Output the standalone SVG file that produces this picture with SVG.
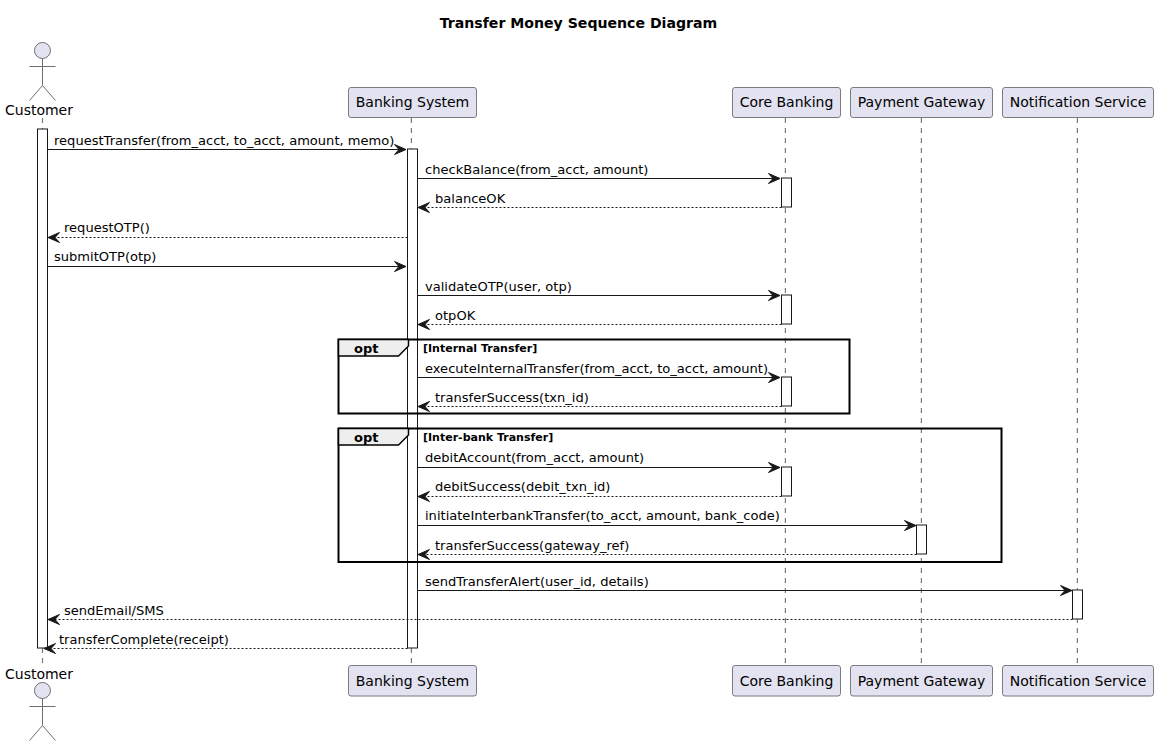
<svg xmlns="http://www.w3.org/2000/svg" width="1158" height="746" viewBox="0 0 1158 746">
<style>
text{font-family:"DejaVu Sans",sans-serif;font-size:13.06px;fill:#000}
.title{font-weight:bold;font-size:14.1px}
.cond{font-weight:bold;font-size:11px}
.opt{font-weight:bold;font-size:13px}
.name{font-size:14px;fill:#000}
.life{stroke:#7a7a7a;stroke-width:1.2;stroke-dasharray:5 5;fill:none}
.box{fill:#E2E2F0;stroke:#7b7b82;stroke-width:1}
.fig{fill:none;stroke:#6e6e6e;stroke-width:1}
.head{fill:#E2E2F0;stroke:#6e6e6e;stroke-width:1}
.act{fill:#fff;stroke:#181818;stroke-width:1}
.msg{stroke:#181818;stroke-width:1;fill:none}
.ret{stroke:#181818;stroke-width:1;fill:none;stroke-dasharray:2 2}
.frame{fill:none;stroke:#000;stroke-width:2}
.tab{fill:#EEEEEE;stroke:#000;stroke-width:1.5}
.ah{fill:#181818;stroke:#181818;stroke-width:1}
</style>
<defs>
<path id="ar" class="ah" d="M0 0L-11.500 -5L-7 0L-11.500 5Z"/>
<path id="al" class="ah" d="M0 0L11.500 -5L7 0L11.500 5Z"/>
<g id="actor">
<circle class="head" cx="0" cy="8" r="8"/>
<path class="fig" d="M0 16V43M-13 24H13M0 43L-13 58M0 43L13 58"/>
</g>
</defs>
<text class="title" x="578.500" y="28" text-anchor="middle">Transfer Money Sequence Diagram</text>
<g id="lifelines">
<path class="life" d="M42.500 118V665"/>
<path class="life" d="M411.400 118V665"/>
<path class="life" d="M785.400 118V665"/>
<path class="life" d="M921.400 118V665"/>
<path class="life" d="M1077.400 118V665"/>
</g>
<g id="activations">
<rect class="act" x="37.500" y="129" width="10" height="519"/>
<rect class="act" x="407.500" y="149" width="10" height="499"/>
<rect class="act" x="781.500" y="178" width="10" height="29"/>
<rect class="act" x="781.500" y="295" width="10" height="29"/>
<rect class="act" x="781.500" y="377" width="10" height="29"/>
<rect class="act" x="781.500" y="467" width="10" height="29"/>
<rect class="act" x="916.500" y="525" width="10" height="29"/>
<rect class="act" x="1072.500" y="590" width="10" height="29"/>
</g>
<g id="frames">
<rect class="frame" x="338.500" y="339.500" width="511" height="74"/>
<path class="tab" d="M338.500 339.500H408.500V346L398.500 356H338.500Z"/>
<text class="opt" x="354" y="353">opt</text>
<text class="cond" x="423" y="352">[Internal Transfer]</text>
<rect class="frame" x="338.500" y="428.500" width="663" height="133.500"/>
<path class="tab" d="M338.500 428.500H408.500V435L398.500 445H338.500Z"/>
<text class="opt" x="354" y="442">opt</text>
<text class="cond" x="423" y="441">[Inter-bank Transfer]</text>
</g>
<g id="connectors">
<path class="msg" d="M47.500 149.500H405"/><use href="#ar" x="406" y="149.500"/>
<path class="msg" d="M417.500 178.500H779"/><use href="#ar" x="780" y="178.500"/>
<path class="ret" d="M781.500 207.500H419"/><use href="#al" x="418" y="207.500"/>
<path class="ret" d="M407.500 237.500H49"/><use href="#al" x="48" y="237.500"/>
<path class="msg" d="M47.500 266.500H405"/><use href="#ar" x="406" y="266.500"/>
<path class="msg" d="M417.500 295.500H779"/><use href="#ar" x="780" y="295.500"/>
<path class="ret" d="M781.500 324.500H419"/><use href="#al" x="418" y="324.500"/>
<path class="msg" d="M417.500 377.500H779"/><use href="#ar" x="780" y="377.500"/>
<path class="ret" d="M781.500 406.500H419"/><use href="#al" x="418" y="406.500"/>
<path class="msg" d="M417.500 467.500H779"/><use href="#ar" x="780" y="467.500"/>
<path class="ret" d="M781.500 496.500H419"/><use href="#al" x="418" y="496.500"/>
<path class="msg" d="M417.500 525.500H915"/><use href="#ar" x="916" y="525.500"/>
<path class="ret" d="M916.500 554.500H419"/><use href="#al" x="418" y="554.500"/>
<path class="msg" d="M417.500 590.500H1071"/><use href="#ar" x="1072" y="590.500"/>
<path class="ret" d="M1072.500 619.500H49"/><use href="#al" x="48" y="619.500"/>
<path class="ret" d="M407.500 648.500H45"/><use href="#al" x="44" y="648.500"/>
</g>
<g id="labels">
<text x="54" y="145">requestTransfer(from_acct, to_acct, amount, memo)</text>
<text x="425" y="174">checkBalance(from_acct, amount)</text>
<text x="435" y="203">balanceOK</text>
<text x="64" y="232">requestOTP()</text>
<text x="54" y="261">submitOTP(otp)</text>
<text x="425" y="291">validateOTP(user, otp)</text>
<text x="435" y="320">otpOK</text>
<text x="425" y="373">executeInternalTransfer(from_acct, to_acct, amount)</text>
<text x="435" y="402">transferSuccess(txn_id)</text>
<text x="425" y="462">debitAccount(from_acct, amount)</text>
<text x="435" y="491">debitSuccess(debit_txn_id)</text>
<text x="425" y="520">initiateInterbankTransfer(to_acct, amount, bank_code)</text>
<text x="435" y="550">transferSuccess(gateway_ref)</text>
<text x="425" y="586">sendTransferAlert(user_id, details)</text>
<text x="64" y="615">sendEmail/SMS</text>
<text x="59" y="644">transferComplete(receipt)</text>
</g>
<g id="customer-top"><use href="#actor" x="42.500" y="42.500"/><text class="name" x="39" y="115" text-anchor="middle">Customer</text></g>
<g id="customer-bottom"><use href="#actor" x="42.500" y="682.500"/><text class="name" x="39" y="679" text-anchor="middle">Customer</text></g>
<g id="banking-top"><rect class="box" x="348.500" y="87.500" width="128" height="30" rx="2.500"/><text class="name" x="412.500" y="107" text-anchor="middle">Banking System</text></g>
<g id="banking-bottom"><rect class="box" x="348.500" y="665.500" width="128" height="30.500" rx="2.500"/><text class="name" x="412.500" y="686" text-anchor="middle">Banking System</text></g>
<g id="core-top"><rect class="box" x="732.500" y="87.500" width="108" height="30" rx="2.500"/><text class="name" x="786.500" y="107" text-anchor="middle">Core Banking</text></g>
<g id="core-bottom"><rect class="box" x="732.500" y="665.500" width="108" height="30.500" rx="2.500"/><text class="name" x="786.500" y="686" text-anchor="middle">Core Banking</text></g>
<g id="payment-top"><rect class="box" x="850.500" y="87.500" width="142" height="30" rx="2.500"/><text class="name" x="921.500" y="107" text-anchor="middle">Payment Gateway</text></g>
<g id="payment-bottom"><rect class="box" x="850.500" y="665.500" width="142" height="30.500" rx="2.500"/><text class="name" x="921.500" y="686" text-anchor="middle">Payment Gateway</text></g>
<g id="notification-top"><rect class="box" x="1002.500" y="87.500" width="151" height="30" rx="2.500"/><text class="name" x="1078" y="107" text-anchor="middle">Notification Service</text></g>
<g id="notification-bottom"><rect class="box" x="1002.500" y="665.500" width="151" height="30.500" rx="2.500"/><text class="name" x="1078" y="686" text-anchor="middle">Notification Service</text></g>
</svg>
